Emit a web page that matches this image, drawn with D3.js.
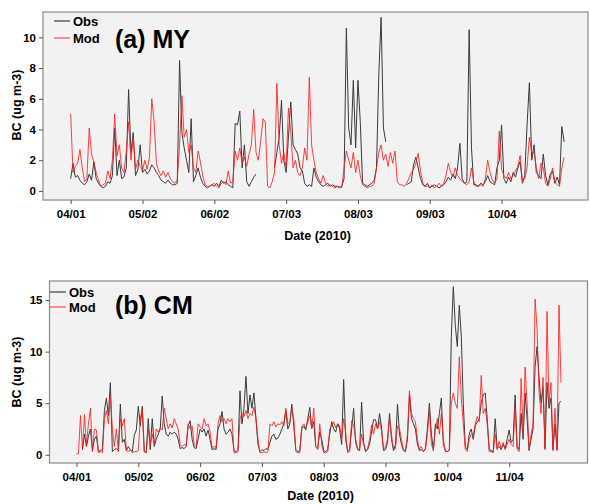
<!DOCTYPE html>
<html lang="en">
<head>
<meta charset="utf-8">
<title>BC Obs vs Mod 2010</title>
<script src="https://cdn.jsdelivr.net/npm/d3@7"></script>
<style>
  body { margin: 0; background: #fff; }
  text { font-family: "Liberation Sans", Arial, sans-serif; font-weight: bold; fill: #000; }
</style>
</head>
<body>
<script>
// start date of both series, one value per day
var startDate = "2010-04-01";

// (a) MY, 04/01 - 10/31
var obsA = [
  0.8, 1.8, 0.9, 1.0, 0.7, 0.5, 0.4, 0.6, 1.1, 0.7,
  1.9, 0.8, 0.5, 0.3, 0.2, 0.3, 0.6, 0.5, 1.0, 4.1,
  1.0, 2.0, 0.8, 0.9, 1.5, 6.6, 2.5, 3.8, 1.0, 1.4,
  3.0, 1.2, 1.4, 1.1, 1.3, 1.7, 1.5, 1.2, 1.0, 0.7,
  0.6, 0.5, 0.7, 0.5, 0.4, 0.4, 0.5, 8.5, 3.8, 2.8,
  2.0, 1.2, 4.7, 0.6, 1.0, 1.5, 0.9, 0.5, 0.3, 0.2,
  0.3, 0.4, 0.3, 0.5, 0.3, 0.7, 0.5, 0.6, 0.4, 0.3,
  0.2, 4.4, 4.3, 5.2, 1.5, 3.0, 0.6, 0.3, 0.6, 0.9,
  1.1, null, null, null, null, null, null, null, 1.5, 2.5,
  3.5, 5.9, 2.0, 1.2, 3.5, 5.8, 3.0, 2.7, 2.4, 1.5,
  1.3, 0.5, 0.3, 0.4, 0.3, 1.5, 0.9, 0.6, 0.4, 0.3,
  0.4, 0.5, 0.3, 0.4, 0.3, 0.3, 0.2, 0.3, 0.8, 10.6,
  4.1, 3.0, 7.2, 2.8, 7.2, 4.5, 0.5, 0.4, 0.3, 0.4,
  0.5, 0.7, 1.5, 7.6, 11.3, 4.1, 3.2, null, null, null,
  null, null, null, null, null, 0.4, 0.5, 0.6, 1.7, 2.2,
  1.5, 0.8, 0.4, 0.3, 0.5, 0.2, 0.3, 0.4, 0.3, 0.2,
  0.3, 0.4, 0.6, 0.9, 0.7, 1.1, 0.8, 1.5, 3.1, 0.8,
  0.5, 0.6, 10.5, 2.8, 0.4, 0.4, 0.3, 0.5, 0.4, 0.6,
  1.0, 0.6, 0.5, 0.4, 1.5, 2.0, 4.3, 0.8, 0.5, 0.9,
  0.6, 1.2, 0.9, 1.5, 1.9, 0.5, 1.0, 4.3, 7.05, 2.0,
  3.0, 1.2, 1.0, 0.8, 2.4, 1.0, 0.4, 1.1, 1.3, 0.5,
  0.9, 0.4, 4.2, 3.2
];
var modA = [
  5.0, 1.2, 1.6, 1.8, 2.7, 1.5, 0.6, 0.8, 4.1, 2.4,
  1.9, 1.2, 0.7, 0.3, 0.4, 0.5, 1.3, 0.8, 2.0, 5.0,
  2.3, 3.0, 1.5, 1.2, 2.6, 4.5, 2.0, 3.5, 1.4, 2.0,
  1.6, 1.3, 2.0, 1.4, 2.2, 6.0, 4.5, 1.8, 1.3, 1.0,
  1.3, 0.9, 1.2, 0.8, 0.6, 0.5, 0.7, 3.0, 6.2, 3.5,
  4.0, 2.5, 3.0, 1.5, 1.2, 2.6, 1.9, 1.0, 0.4, 0.3,
  0.3, 0.4, 0.5, 0.3, 0.2, 0.5, 0.6, 0.4, 1.3, 0.5,
  0.6, 2.6, 2.0, 2.8, 1.8, 2.2, 1.6, 2.4, 3.0, 5.3,
  2.5, 2.0, 3.2, 4.7, 4.5, 0.3, 0.2, 0.6, 1.2, 7.0,
  3.0, 1.8, 2.5, 1.5, 5.4, 3.8, 1.5, 2.0, 1.2, 1.0,
  1.5, 2.8, 2.0, 7.4, 3.0, 2.0, 1.2, 0.8, 0.5, 1.0,
  0.5, 0.3, 0.4, 0.3, 0.2, 0.3, 0.3, 0.2, 1.5, 2.6,
  2.0, 1.5, 2.5, 1.2, 2.0, 1.0, 0.4, 0.3, 0.2, 0.3,
  0.3, 0.5, 1.5, 2.5, 3.0, 2.0, 2.4, 1.6, 2.5, 1.8,
  2.6, 0.6, 0.4, 0.4, 0.3, 0.5, 0.8, 1.2, 1.4, 1.8,
  2.45, 1.3, 0.5, 0.3, 0.3, 0.2, 0.4, 0.2, 0.3, 0.5,
  0.3, 0.5, 1.0, 1.8, 1.2, 0.9, 1.5, 1.0, 0.8, 0.6,
  0.5, 0.4, 0.6, 1.5, 0.6, 0.3, 0.3, 0.4, 0.3, 0.8,
  2.0, 1.2, 0.7, 0.5, 0.8, 3.9, 1.4, 1.0, 0.8, 1.2,
  0.8, 1.0, 1.3, 1.6, 2.3, 0.6, 0.8, 1.5, 3.5, 2.5,
  2.5, 1.5, 0.8, 1.8, 1.5, 0.5, 0.3, 0.8, 1.5, 0.6,
  0.4, 0.3, 1.5, 2.2
];

// (b) CM, 04/01 - 11/30
var obsB = [
  null, null, null, 0.5, 2.0, 0.8, 1.8, 2.5, 0.4, 1.5,
  1.8, 0.3, 0.4, 0.5, 4.3, 5.5, 3.8, 7.0, 0.3, 0.5,
  0.6, 0.4, 4.9, 1.2, 1.5, 0.4, 0.8, 0.5, 0.3, 1.9,
  2.4, 4.7, 2.8, 4.7, 0.3, 0.2, 3.5, 0.5, 3.5, 0.8,
  1.5, 2.0, 2.5, 5.7, 3.0, 2.0, 1.8, 2.2, 2.0, 2.2,
  2.0, 1.5, 0.6, 0.7, 0.6, 0.8, 2.8, 3.3, 1.5, 0.7,
  0.6, 1.5, 2.5, 2.2, 2.5, 1.8, 2.4, 1.5, 0.5, 0.6,
  0.5, 2.5, 3.0, 4.2, 2.5, 2.0, 2.2, 2.5, 2.0, 0.4,
  0.3, 0.5, 6.2, 3.0, 4.5, 7.6, 4.0, 5.8, 4.5, 6.0,
  3.5, 1.0, 0.3, 0.5, 0.4, 0.6, 0.5, 1.2, 1.8, 2.0,
  1.5, 1.6, 2.0, 2.5, 3.0, 4.3, 2.5, 3.0, 4.9, 2.8,
  0.5, 0.3, 0.4, 2.5, 2.8, 2.4, 3.5, 4.6, 2.6, 3.2,
  0.8, 0.6, 2.2, 1.5, 0.4, 0.3, 0.5, 2.0, 3.2, 2.5,
  2.2, 3.0, 2.5, 1.0, 7.3, 1.5, 0.3, 0.5, 2.5, 4.5,
  1.2, 0.5, 0.4, 5.1, 1.2, 0.3, 0.5, 1.0, 2.2, 3.4,
  3.4, 2.5, 4.0, 2.6, 0.4, 0.5, 1.2, 4.0, 1.5, 0.4,
  1.0, 4.9, 2.0, 1.0, 0.4, 0.3, 1.5, 5.8, 3.5, 3.0,
  2.5, 1.0, 0.4, 0.5, 0.3, 0.6, 2.5, 5.0, 2.0, 0.4,
  3.0, 2.5, 4.0, 5.5, 1.0, 0.4, 0.3, 0.5, 11.5, 16.3,
  12.5, 10.5, 14.5, 11.5, 5.0, 0.8, 0.5, 2.0, 2.5, 1.5,
  2.8, 3.2, 3.5, 5.0, 5.8, 6.0, 3.5, 0.5, 0.4, 0.3,
  3.5, 0.6, 0.8, 0.5, 1.0, 0.6, 1.5, 2.4, 1.2, 1.5,
  5.8, 0.8, 0.5, 4.0, 1.5, 6.0, 3.5, 0.4, 1.5, 2.5,
  8.5, 10.5, 7.5, 5.0, 6.5, 0.6, 7.0, 4.5, 5.5, 0.5,
  3.0, 0.5, 5.0, 5.2
];
var modB = [
  0.1, 0.1, 3.8, 0.5, 3.9, 1.0, 3.0, 4.5, 0.3, 2.5,
  2.4, 0.2, 0.3, 0.2, 3.5, 4.3, 3.0, 5.7, 2.5, 0.8,
  2.5, 0.3, 3.5, 2.8, 3.5, 0.4, 0.3, 0.5, 0.2, 0.3,
  0.3, 0.4, 3.5, 4.4, 0.3, 0.2, 2.5, 1.0, 2.0, 1.0,
  2.5, 2.2, 2.6, 2.4, 4.5, 3.5, 2.5, 3.0, 2.6, 3.5,
  3.0, 2.5, 1.0, 0.8, 1.0, 0.9, 3.0, 2.5, 2.8, 1.0,
  0.8, 3.0, 2.7, 2.5, 3.5, 2.8, 3.0, 2.2, 0.7, 0.8,
  0.7, 3.0, 3.8, 3.2, 3.5, 3.0, 3.5, 3.2, 3.5, 0.2,
  0.2, 0.3, 3.5, 4.0, 3.7, 4.3, 3.5, 4.0, 3.8, 4.6,
  3.6, 1.5, 0.2, 0.2, 0.3, 0.2, 0.3, 3.0, 2.8, 3.2,
  2.7, 3.0, 2.9, 3.2, 2.8, 4.5, 3.0, 3.2, 4.5, 3.5,
  0.3, 0.2, 0.2, 2.8, 3.0, 2.6, 3.2, 3.8, 2.5, 4.5,
  0.8, 0.5, 3.0, 1.0, 0.2, 0.2, 0.3, 2.5, 2.8, 3.2,
  2.6, 3.0, 2.8, 1.5, 3.5, 2.2, 0.2, 0.3, 3.3, 2.8,
  1.5, 0.6, 0.5, 2.0, 1.0, 0.4, 0.6, 1.5, 2.9, 2.0,
  3.0, 2.5, 3.2, 2.3, 0.5, 0.8, 1.5, 3.5, 2.0, 0.5,
  0.6, 2.8, 2.5, 1.5, 0.5, 0.4, 2.0, 6.2, 4.0, 3.5,
  3.2, 1.5, 0.5, 0.8, 0.3, 0.5, 2.0, 4.3, 1.0, 0.5,
  2.5, 3.5, 2.0, 4.0, 1.5, 0.3, 0.3, 0.4, 5.0, 6.0,
  5.0, 4.5, 9.5, 5.5, 3.0, 0.5, 0.3, 1.5, 2.0, 1.8,
  3.0, 3.7, 3.2, 7.7, 4.0, 4.5, 3.0, 0.3, 0.3, 0.2,
  2.0, 0.5, 1.3, 0.6, 1.2, 0.5, 1.0, 1.5, 1.0, 0.8,
  4.6, 0.5, 0.3, 7.4, 2.0, 8.5, 5.0, 0.5, 2.0, 3.0,
  15.1, 12.3, 6.0, 4.0, 7.5, 0.5, 13.9, 5.0, 7.0, 0.4,
  4.5, 0.4, 14.5, 7.0
];

var xTicksA = ["04/01", "05/02", "06/02", "07/03", "08/03", "09/03", "10/04"];
var xTicksB = ["04/01", "05/02", "06/02", "07/03", "08/03", "09/03", "10/04", "11/04"];
var yTicksA = [0, 2, 4, 6, 8, 10];
var yTicksB = [0, 5, 10, 15];

var W = 590, H = 504;
var svg = d3.select("body").append("svg").attr("width", W).attr("height", H);

var day0 = d3.utcParse("%Y-%m-%d")(startDate);
var parseTick = function (s) { return d3.utcParse("%Y/%m/%d")("2010/" + s); };
var dayMs = 864e5;

function panel(o) {
  var g = svg.append("g");
  var x = d3.scaleUtc()
      .domain([new Date(+day0 + o.d0 * dayMs), new Date(+day0 + o.d1 * dayMs)])
      .range([o.left, o.right]);
  var y = d3.scaleLinear().domain(o.ydom).range([o.bottom, o.top]);

  g.append("rect")
      .attr("x", o.left).attr("y", o.top)
      .attr("width", o.right - o.left).attr("height", o.bottom - o.top)
      .attr("fill", "#f2f2f2");

  var clipId = "clip" + o.id;
  g.append("clipPath").attr("id", clipId).append("rect")
      .attr("x", o.left).attr("y", o.top)
      .attr("width", o.right - o.left).attr("height", o.bottom - o.top);

  var line = d3.line()
      .defined(function (d) { return d.v != null; })
      .x(function (d) { return x(d.t); })
      .y(function (d) { return y(d.v); });

  function toPts(arr) {
    return arr.map(function (v, i) { return { t: d3.utcDay.offset(day0, i), v: v }; });
  }

  g.append("path").datum(toPts(o.obs))
      .attr("clip-path", "url(#" + clipId + ")")
      .attr("fill", "none").attr("stroke", "#3a3a3a").attr("stroke-width", 1)
      .attr("d", line);
  g.append("path").datum(toPts(o.mod))
      .attr("clip-path", "url(#" + clipId + ")")
      .attr("fill", "none").attr("stroke", "#ff1f1f").attr("stroke-opacity", 0.85)
      .attr("stroke-width", 1)
      .attr("d", line);

  // frame
  g.append("rect")
      .attr("x", o.left).attr("y", o.top)
      .attr("width", o.right - o.left).attr("height", o.bottom - o.top)
      .attr("fill", "none").attr("stroke", "#8a8a8a").attr("stroke-width", 1.2);

  var xa = g.append("g").attr("transform", "translate(0," + o.bottom + ")")
      .call(d3.axisBottom(x)
        .tickValues(o.xticks.map(parseTick))
        .tickFormat(d3.utcFormat("%m/%d"))
        .tickSize(4).tickPadding(6));
  var ya = g.append("g").attr("transform", "translate(" + o.left + ",0)")
      .call(d3.axisLeft(y).tickValues(o.yticks).tickSize(4).tickPadding(3));
  [xa, ya].forEach(function (a) {
    a.select(".domain").remove();
    a.selectAll(".tick line").attr("stroke", "#555");
    a.selectAll(".tick text").attr("font-size", 11.5)
      .attr("font-family", "Liberation Sans, Arial, sans-serif").attr("font-weight", "bold").attr("fill", "#000");
  });

  g.append("text")
      .attr("x", (o.left + o.right) / 2 + 2).attr("y", o.bottom + o.dateDy)
      .attr("text-anchor", "middle").attr("font-size", 12.5)
      .text("Date (2010)");
  g.append("text")
      .attr("transform", "translate(21," + o.ymid + ") rotate(-90)")
      .attr("text-anchor", "middle").attr("font-size", 12.5)
      .text("BC (ug m-3)");

  // legend
  var lg = g.append("g");
  [["Obs", "#3a3a3a"], ["Mod", "#ff4a4a"]].forEach(function (it, i) {
    var ly = o.legY + i * o.legDy;
    lg.append("line").attr("x1", o.legX).attr("x2", o.legX + 16)
      .attr("y1", ly).attr("y2", ly).attr("stroke", it[1]).attr("stroke-width", 1.2);
    lg.append("text").attr("x", o.legX + 19).attr("y", ly + 4.5)
      .attr("font-size", 13).text(it[0]);
  });

  g.append("text").attr("x", 115).attr("y", o.titleY)
      .attr("font-size", 25).text(o.title);
}

panel({
  id: "a", obs: obsA, mod: modA, xticks: xTicksA, yticks: yTicksA,
  left: 43, right: 588, top: 12, bottom: 200,
  d0: -11.95, d1: 223.3, ydom: [-0.59, 11.65], dateDy: 40,
  ymid: 105, legX: 54, legY: 21, legDy: 17, title: "(a) MY", titleY: 48
});
panel({
  id: "b", obs: obsB, mod: modB, xticks: xTicksB, yticks: yTicksB,
  left: 49.5, right: 587.5, top: 281, bottom: 463,
  d0: -13.54, d1: 256.3, ydom: [-0.8, 16.85], dateDy: 37,
  ymid: 372, legX: 50, legY: 292, legDy: 15, title: "(b) CM", titleY: 314
});
</script>
</body>
</html>
